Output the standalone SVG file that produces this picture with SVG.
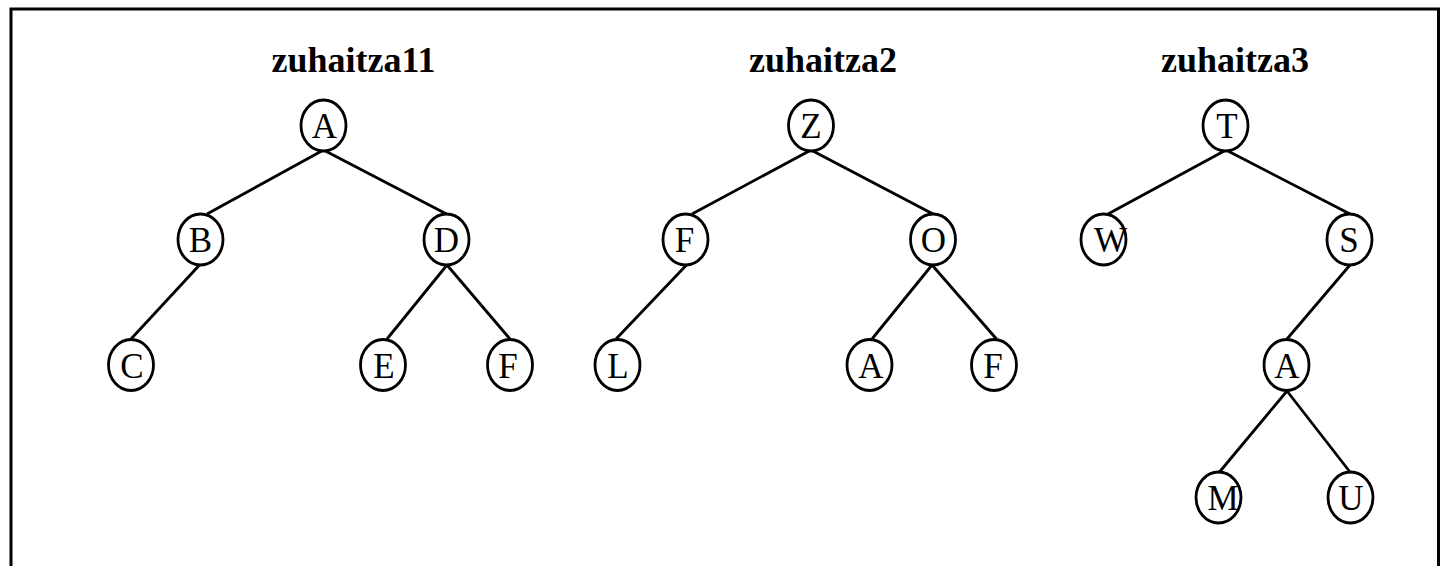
<svg xmlns="http://www.w3.org/2000/svg" width="1443" height="566" viewBox="0 0 1443 566">
  <style>
    .frame { fill: none; stroke: #000; stroke-width: 3; }
    .title { font-family: "Liberation Serif", "Times New Roman", serif; font-weight: bold; font-size: 36px; text-anchor: middle; fill: #000; }
    .node ellipse { fill: #fff; stroke: #000; stroke-width: 2.8; }
    .node text { font-family: "Liberation Serif", "Times New Roman", serif; font-size: 35px; text-anchor: middle; fill: #000; }
    .edges line { stroke: #000; stroke-width: 2.8; }
  </style>
  <rect width="1443" height="566" fill="#fff"/>
  <rect class="frame" x="11" y="9" width="1427.5" height="600"/>

  <text class="title" x="353.5" y="72">zuhaitza11</text>
  <text class="title" x="823" y="72">zuhaitza2</text>
  <text class="title" x="1235" y="72">zuhaitza3</text>

  <g class="edges" id="connectors">
    <!-- zuhaitza11 -->
    <line x1="323.5" y1="150" x2="207" y2="214"/>
    <line x1="323.5" y1="150" x2="446.5" y2="214"/>
    <line x1="199.5" y1="265" x2="131" y2="339"/>
    <line x1="447" y1="265" x2="387" y2="339"/>
    <line x1="447" y1="265" x2="510" y2="339"/>
    <!-- zuhaitza2 -->
    <line x1="811" y1="150" x2="692" y2="214"/>
    <line x1="811" y1="150" x2="933" y2="214"/>
    <line x1="686.5" y1="265" x2="616" y2="339"/>
    <line x1="932" y1="265" x2="872" y2="339"/>
    <line x1="932" y1="265" x2="996.5" y2="339"/>
    <!-- zuhaitza3 -->
    <line x1="1226" y1="150" x2="1108" y2="214"/>
    <line x1="1226" y1="150" x2="1350" y2="214"/>
    <line x1="1350" y1="265" x2="1287" y2="339"/>
    <line x1="1287" y1="391" x2="1219.5" y2="472"/>
    <line x1="1287" y1="391" x2="1350" y2="472"/>
  </g>

  <!-- zuhaitza11 -->
  <g class="node" id="t1-A"><ellipse cx="323.5" cy="125.5" rx="22.5" ry="25.5"/><text x="324.5" y="138">A</text></g>
  <g class="node" id="t1-B"><ellipse cx="200.5" cy="239.5" rx="22.5" ry="25.5"/><text x="200.5" y="252">B</text></g>
  <g class="node" id="t1-D"><ellipse cx="446.5" cy="239.5" rx="22.5" ry="25.5"/><text x="446.5" y="252">D</text></g>
  <g class="node" id="t1-C"><ellipse cx="131" cy="365" rx="22.5" ry="25.5"/><text x="132" y="377.5">C</text></g>
  <g class="node" id="t1-E"><ellipse cx="383" cy="365" rx="22.5" ry="25.5"/><text x="384" y="377.5">E</text></g>
  <g class="node" id="t1-F"><ellipse cx="510" cy="365" rx="22.5" ry="25.5"/><text x="508" y="377.5">F</text></g>

  <!-- zuhaitza2 -->
  <g class="node" id="t2-Z"><ellipse cx="811" cy="125.5" rx="22.5" ry="25.5"/><text x="811" y="138">Z</text></g>
  <g class="node" id="t2-F"><ellipse cx="685.5" cy="239.5" rx="22.5" ry="25.5"/><text x="684.5" y="252">F</text></g>
  <g class="node" id="t2-O"><ellipse cx="933" cy="239.5" rx="22.5" ry="25.5"/><text x="933.5" y="252">O</text></g>
  <g class="node" id="t2-L"><ellipse cx="617.5" cy="365" rx="22.5" ry="25.5"/><text x="618" y="377.5">L</text></g>
  <g class="node" id="t2-A"><ellipse cx="869.5" cy="365" rx="22.5" ry="25.5"/><text x="871" y="377.5">A</text></g>
  <g class="node" id="t2-F2"><ellipse cx="994" cy="365" rx="22.5" ry="25.5"/><text x="993" y="377.5">F</text></g>

  <!-- zuhaitza3 -->
  <g class="node" id="t3-T"><ellipse cx="1225.5" cy="125.5" rx="22.5" ry="25.5"/><text x="1227" y="138">T</text></g>
  <g class="node" id="t3-W"><ellipse cx="1103.5" cy="239.5" rx="22.5" ry="25.5"/><text x="1110.5" y="252">W</text></g>
  <g class="node" id="t3-S"><ellipse cx="1349.5" cy="239.5" rx="22.5" ry="25.5"/><text x="1349" y="252">S</text></g>
  <g class="node" id="t3-A"><ellipse cx="1286.5" cy="365" rx="22.5" ry="25.5"/><text x="1287" y="377.5">A</text></g>
  <g class="node" id="t3-M"><ellipse cx="1218.5" cy="497.5" rx="22.5" ry="25.5"/><text x="1223" y="510">M</text></g>
  <g class="node" id="t3-U"><ellipse cx="1350.5" cy="497.5" rx="22.5" ry="25.5"/><text x="1351" y="510">U</text></g>
</svg>
